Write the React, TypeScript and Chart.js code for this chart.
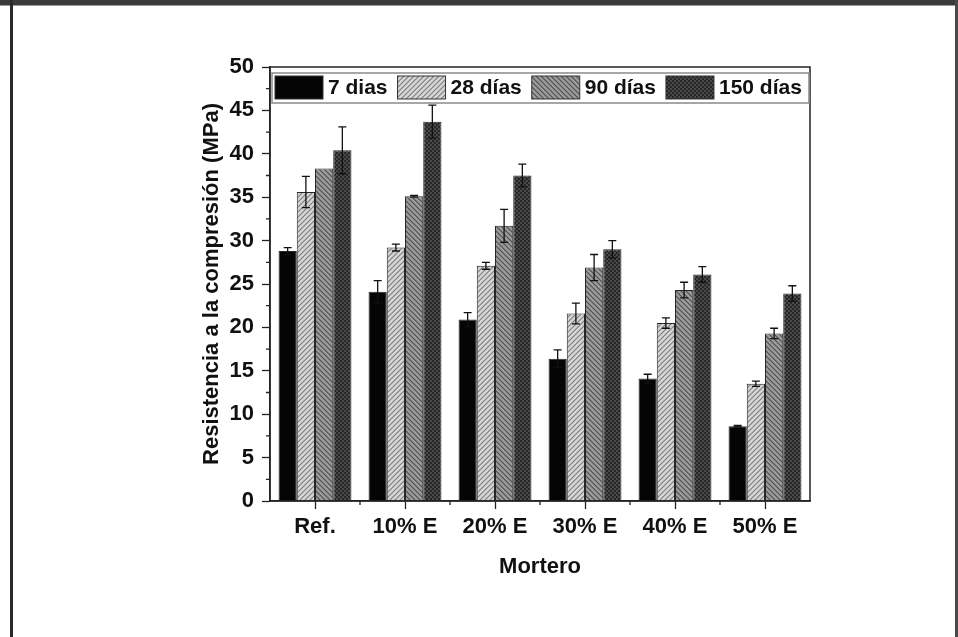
import React, { useEffect, useRef } from "react";
import { Chart, registerables } from "chart.js";

Chart.register(...registerables);

// ---------- data ----------
const categories = ["Ref.", "10% E", "20% E", "30% E", "40% E", "50% E"];
const seriesNames = ["7 dias", "28 días", "90 días", "150 días"];

const dias7 = [28.8, 24.1, 20.9, 16.4, 14.1, 8.6];
const dias28 = [35.6, 29.2, 27.1, 21.6, 20.5, 13.5];
const dias90 = [38.3, 35.1, 31.7, 26.9, 24.3, 19.3];
const dias150 = [40.4, 43.7, 37.5, 29.0, 26.1, 23.9];

const err7 = [0.4, 1.3, 0.8, 1.0, 0.5, 0.1];
const err28 = [1.8, 0.4, 0.4, 1.2, 0.6, 0.3];
const err90 = [0.0, 0.1, 1.9, 1.5, 0.9, 0.6];
const err150 = [2.7, 1.9, 1.3, 1.0, 0.9, 0.9];

const yMin = 0;
const yMax = 50;
const yStep = 5;
const yMinorTicks = [2.5, 7.5, 12.5, 17.5, 22.5, 27.5, 32.5, 37.5, 42.5, 47.5];

const yTitle = "Resistencia a la compresión (MPa)";
const xTitle = "Mortero";

const FONT = '"Liberation Sans", Arial, Helvetica, sans-serif';

function makePattern(kind: string): CanvasPattern | string {
  const c = document.createElement("canvas");
  const s = kind === "cross" ? 4 : 5;
  c.width = s;
  c.height = s;
  const g = c.getContext("2d")!;
  if (kind === "fwd") {
    g.fillStyle = "#d6d6d6";
    g.fillRect(0, 0, s, s);
    g.strokeStyle = "#7c7c7c";
    g.lineWidth = 1.1;
    g.beginPath();
    g.moveTo(0, s); g.lineTo(s, 0);
    g.moveTo(-1, 1); g.lineTo(1, -1);
    g.moveTo(s - 1, s + 1); g.lineTo(s + 1, s - 1);
    g.stroke();
  } else if (kind === "back") {
    g.fillStyle = "#9c9c9c";
    g.fillRect(0, 0, s, s);
    g.strokeStyle = "#4e4e4e";
    g.lineWidth = 1.1;
    g.beginPath();
    g.moveTo(0, 0); g.lineTo(s, s);
    g.moveTo(-1, s - 1); g.lineTo(1, s + 1);
    g.moveTo(s - 1, -1); g.lineTo(s + 1, 1);
    g.stroke();
  } else {
    g.fillStyle = "#4a4a4a";
    g.fillRect(0, 0, s, s);
    g.fillStyle = "#262626";
    g.fillRect(0, 0, 2, 2);
    g.fillRect(2, 2, 2, 2);
  }
  const p = g.createPattern(c, "repeat");
  return p || "#888";
}

export default function App() {
  const ref = useRef<HTMLCanvasElement | null>(null);

  useEffect(() => {
    if (!ref.current) return;
    const fills = [
      "#050505",
      makePattern("fwd"),
      makePattern("back"),
      makePattern("cross"),
    ];
    const values = [dias7, dias28, dias90, dias150];
    const errors = [err7, err28, err90, err150];

    const decor = {
      id: "decor",
      afterDatasetsDraw(chart: any) {
        const ctx = chart.ctx;
        const ys = chart.scales.y;
        ctx.save();
        ctx.strokeStyle = "#111";
        ctx.lineWidth = 1.3;
        chart.data.datasets.forEach((ds: any, di: number) => {
          const meta = chart.getDatasetMeta(di);
          meta.data.forEach((bar: any, i: number) => {
            const v = values[di][i];
            const e = errors[di][i];
            if (!e) return;
            const yt = ys.getPixelForValue(v + e);
            const yb = ys.getPixelForValue(v - e);
            const x = bar.x;
            ctx.beginPath();
            ctx.moveTo(x, yt); ctx.lineTo(x, yb);
            ctx.moveTo(x - 4, yt); ctx.lineTo(x + 4, yt);
            ctx.moveTo(x - 4, yb); ctx.lineTo(x + 4, yb);
            ctx.stroke();
          });
        });
        ctx.restore();
      },
      afterDraw(chart: any) {
        const ctx = chart.ctx;
        const a = chart.chartArea;
        const ys = chart.scales.y;
        const xs = chart.scales.x;
        ctx.save();
        // frame
        ctx.strokeStyle = "#222";
        ctx.lineWidth = 1.5;
        ctx.strokeRect(a.left, a.top, a.right - a.left, a.bottom - a.top);
        // minor ticks y
        ctx.lineWidth = 1.3;
        ctx.beginPath();
        yMinorTicks.forEach((v) => {
          const y = ys.getPixelForValue(v);
          ctx.moveTo(a.left - 4, y);
          ctx.lineTo(a.left, y);
        });
        // minor ticks x (category boundaries)
        for (let i = 0; i < categories.length - 1; i++) {
          const x = (xs.getPixelForValue(i) + xs.getPixelForValue(i + 1)) / 2;
          ctx.moveTo(x, a.bottom);
          ctx.lineTo(x, a.bottom + 4);
        }
        ctx.stroke();

        // legend
        const lx = a.left + 2;
        const ly = a.top + 6;
        const lw = a.right - a.left - 3;
        const lh = 30;
        ctx.fillStyle = "#fff";
        ctx.fillRect(lx, ly, lw, lh);
        ctx.strokeStyle = "#8a8a8a";
        ctx.lineWidth = 1.5;
        ctx.strokeRect(lx, ly, lw, lh);
        ctx.font = `bold 21px ${FONT}`;
        ctx.textBaseline = "middle";
        ctx.textAlign = "left";
        let cx = a.left + 5;
        seriesNames.forEach((name, i) => {
          ctx.fillStyle = fills[i] as any;
          ctx.fillRect(cx, ly + 3, 48, 23);
          ctx.strokeStyle = "#333";
          ctx.lineWidth = 1;
          ctx.strokeRect(cx, ly + 3, 48, 23);
          ctx.fillStyle = "#111";
          ctx.fillText(name, cx + 53, ly + 15.5);
          cx += 53 + ctx.measureText(name).width + 10;
        });
        ctx.restore();
      },
    };

    const chart = new Chart(ref.current, {
      type: "bar",
      data: {
        labels: categories,
        datasets: seriesNames.map((name, i) => ({
          label: name,
          data: values[i],
          backgroundColor: fills[i] as any,
          borderColor: "#262626",
          borderWidth: 1,
          categoryPercentage: 0.81,
          barPercentage: 1,
        })),
      },
      options: {
        responsive: false,
        animation: false,
        layout: { padding: { left: 195, right: 148, top: 67, bottom: 53 } },
        plugins: {
          legend: { display: false },
          tooltip: { enabled: false },
        },
        scales: {
          x: {
            offset: true,
            grid: {
              offset: false,
              drawOnChartArea: false,
              drawTicks: true,
              tickLength: 8,
              tickColor: "#222",
              tickWidth: 1.3,
            },
            border: { display: true, color: "#222", width: 1.5 },
            ticks: {
              padding: 5,
              color: "#111",
              font: { family: FONT, size: 22, weight: "bold" },
            },
            title: {
              display: true,
              text: xTitle,
              color: "#111",
              font: { family: FONT, size: 22, weight: "bold" },
              padding: { top: 4, bottom: 4 },
            },
            afterFit: (s: any) => {
              s.height = 83;
            },
          },
          y: {
            min: yMin,
            max: yMax,
            grid: {
              drawOnChartArea: false,
              drawTicks: true,
              tickLength: 8,
              tickColor: "#222",
              tickWidth: 1.3,
            },
            border: { display: true, color: "#222", width: 1.5 },
            ticks: {
              stepSize: yStep,
              padding: 8,
              color: "#111",
              font: { family: FONT, size: 22, weight: "bold" },
            },
            title: {
              display: true,
              text: yTitle,
              color: "#111",
              font: { family: FONT, size: 22, weight: "bold" },
              padding: { top: 4, bottom: 4 },
            },
            afterFit: (s: any) => {
              s.width = 75;
            },
          },
        },
      } as any,
      plugins: [decor],
    });
    return () => chart.destroy();
  }, []);

  return (
    <div
      style={{
        position: "fixed",
        left: 0,
        top: 0,
        width: 958,
        height: 637,
        background: "#fff",
        overflow: "hidden",
      }}
    >
      <canvas
        ref={ref}
        width={958}
        height={637}
        style={{ position: "absolute", left: 0, top: 0, width: 958, height: 637 }}
      />
      <div style={{ position: "absolute", left: 0, top: 0, width: 958, height: 5, background: "#3a3a3a" }} />
      <div style={{ position: "absolute", left: 0, top: 5, width: 958, height: 1, background: "#9a9a9a" }} />
      <div style={{ position: "absolute", left: 10, top: 0, width: 3, height: 637, background: "#2a2a2a" }} />
      <div style={{ position: "absolute", left: 955, top: 0, width: 3, height: 637, background: "#4a4a4a" }} />
    </div>
  );
}
